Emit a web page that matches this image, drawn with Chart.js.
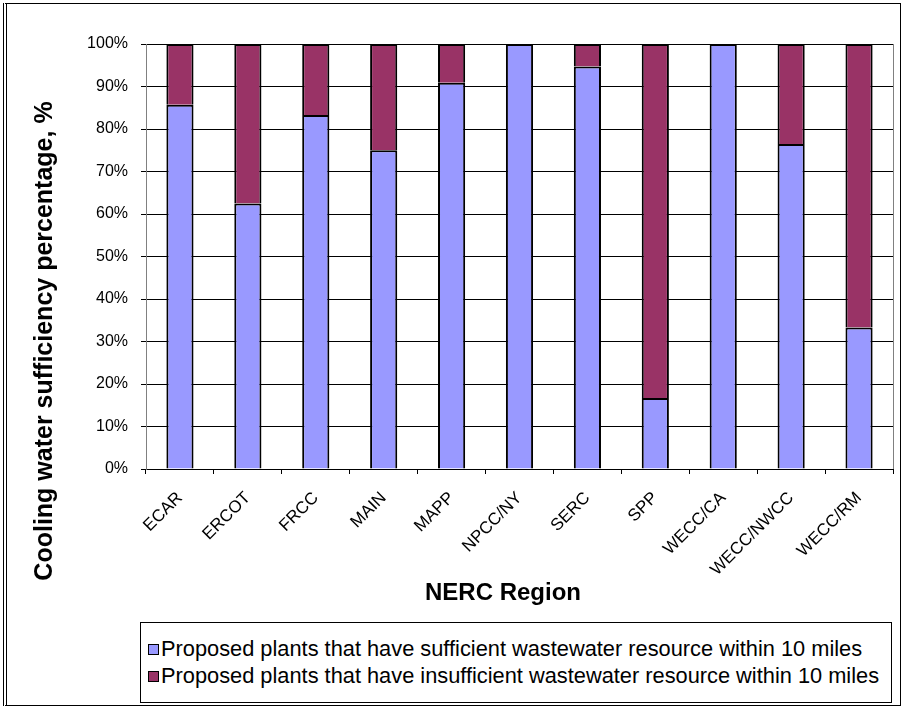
<!DOCTYPE html>
<html>
<head>
<meta charset="utf-8">
<script src="https://cdn.jsdelivr.net/npm/chart.js@4/dist/chart.umd.min.js"></script>
<style>
  html, body { margin: 0; padding: 0; background: #fff; }
  body { width: 904px; height: 710px; position: relative; overflow: hidden; font-family: "Liberation Sans", Arial, sans-serif; }
  .frame { position: absolute; left: 3px; top: 3px; width: 893px; height: 701px; border: 1px solid #000; border-left: 4px double #000; }
  .plot { position: absolute; left: 0; top: 0; width: 904px; height: 612px; }
  .legend {
    position: absolute; left: 140px; top: 622px; width: 752px; height: 81px;
    border: 1px solid #000; box-sizing: border-box; padding: 12px 0 0 7px;
    font-size: 21.8px; color: #000;
  }
  .legend div { height: 27px; line-height: 27px; white-space: nowrap; }
  .legend span { display: inline-block; width: 9px; height: 9px; border: 1px solid #000; margin-right: 2px; vertical-align: 1px; }
</style>
</head>
<body>
<div class="frame"></div>
<div class="plot"><canvas id="chart"></canvas></div>
<div class="legend" id="legend"></div>
<script>
const regions = ['ECAR', 'ERCOT', 'FRCC', 'MAIN', 'MAPP', 'NPCC/NY', 'SERC', 'SPP', 'WECC/CA', 'WECC/NWCC', 'WECC/RM'];
const sufficient = [85.7, 62.5, 83.3, 75.0, 90.9, 100, 94.7, 16.7, 100, 76.5, 33.3];
const insufficient = [14.3, 37.5, 16.7, 25.0, 9.1, 0, 5.3, 83.3, 0, 23.5, 66.7];
const seriesNames = [
    'Proposed plants that have sufficient wastewater resource within 10 miles',
    'Proposed plants that have insufficient wastewater resource within 10 miles'
];
const yTicks = [0, 10, 20, 30, 40, 50, 60, 70, 80, 90, 100];

const FONT = '"Liberation Sans", Arial, sans-serif';

// plot frame on the right side plus the two axis titles
const frameAndTitles = {
    id: 'frameAndTitles',
    afterDraw(chart) {
        const { ctx, chartArea: a } = chart;
        ctx.save();
        ctx.strokeStyle = '#808080';
        ctx.lineWidth = 1;
        ctx.beginPath();
        ctx.moveTo(a.right + 0.5, a.top);
        ctx.lineTo(a.right + 0.5, a.bottom);
        ctx.stroke();

        ctx.fillStyle = '#000';
        ctx.font = 'bold 24px ' + FONT;
        ctx.textAlign = 'center';
        ctx.textBaseline = 'middle';
        ctx.fillText('NERC Region', 503, 593);

        ctx.font = 'bold 25px ' + FONT;
        ctx.translate(45, 341);
        ctx.rotate(-Math.PI / 2);
        ctx.fillText('Cooling water sufficiency percentage, %', 0, 0);
        ctx.restore();
    }
};

const chart = new Chart(document.getElementById('chart'), {
    type: 'bar',
    data: {
        labels: regions,
        datasets: [{
            label: seriesNames[0],
            data: sufficient,
            backgroundColor: '#9999ff',
        }, {
            label: seriesNames[1],
            data: insufficient,
            backgroundColor: '#993366',
        }]
    },
    options: {
        responsive: true,
        maintainAspectRatio: false,
        animation: false,
        layout: { padding: { top: 44, right: 11, left: 0, bottom: 0 } },
        datasets: {
            bar: {
                barPercentage: 0.4,
                categoryPercentage: 1,
                borderColor: '#000',
                borderWidth: { top: 2, left: 2, right: 2, bottom: 0 },
                borderSkipped: false,
            }
        },
        plugins: {
            legend: { display: false },
            tooltip: { enabled: false }
        },
        scales: {
            x: {
                stacked: true,
                afterFit: scale => { scale.height = 143; },
                grid: {
                    drawOnChartArea: false,
                    tickLength: 5,
                    color: '#000'
                },
                border: { color: '#000', width: 1 },
                ticks: {
                    color: '#000',
                    font: { family: FONT, size: 17 },
                    minRotation: 45,
                    maxRotation: 45,
                    padding: 14
                }
            },
            y: {
                stacked: true,
                min: 0,
                max: 100,
                afterFit: scale => { scale.width = 146; },
                afterBuildTicks: scale => { scale.ticks = yTicks.map(v => ({ value: v })); },
                grid: {
                    color: '#000',
                    lineWidth: 1,
                    tickLength: 5
                },
                border: { color: '#808080', width: 1 },
                ticks: {
                    color: '#000',
                    font: { family: FONT, size: 16 },
                    padding: 13,
                    callback: v => v + '%'
                }
            }
        }
    },
    plugins: [frameAndTitles]
});

// legend in a framed box under the plot
document.getElementById('legend').innerHTML = chart.data.datasets.map(ds =>
    `<div><span style="background:${ds.backgroundColor}"></span>${ds.label}</div>`
).join('');
</script>
</body>
</html>
